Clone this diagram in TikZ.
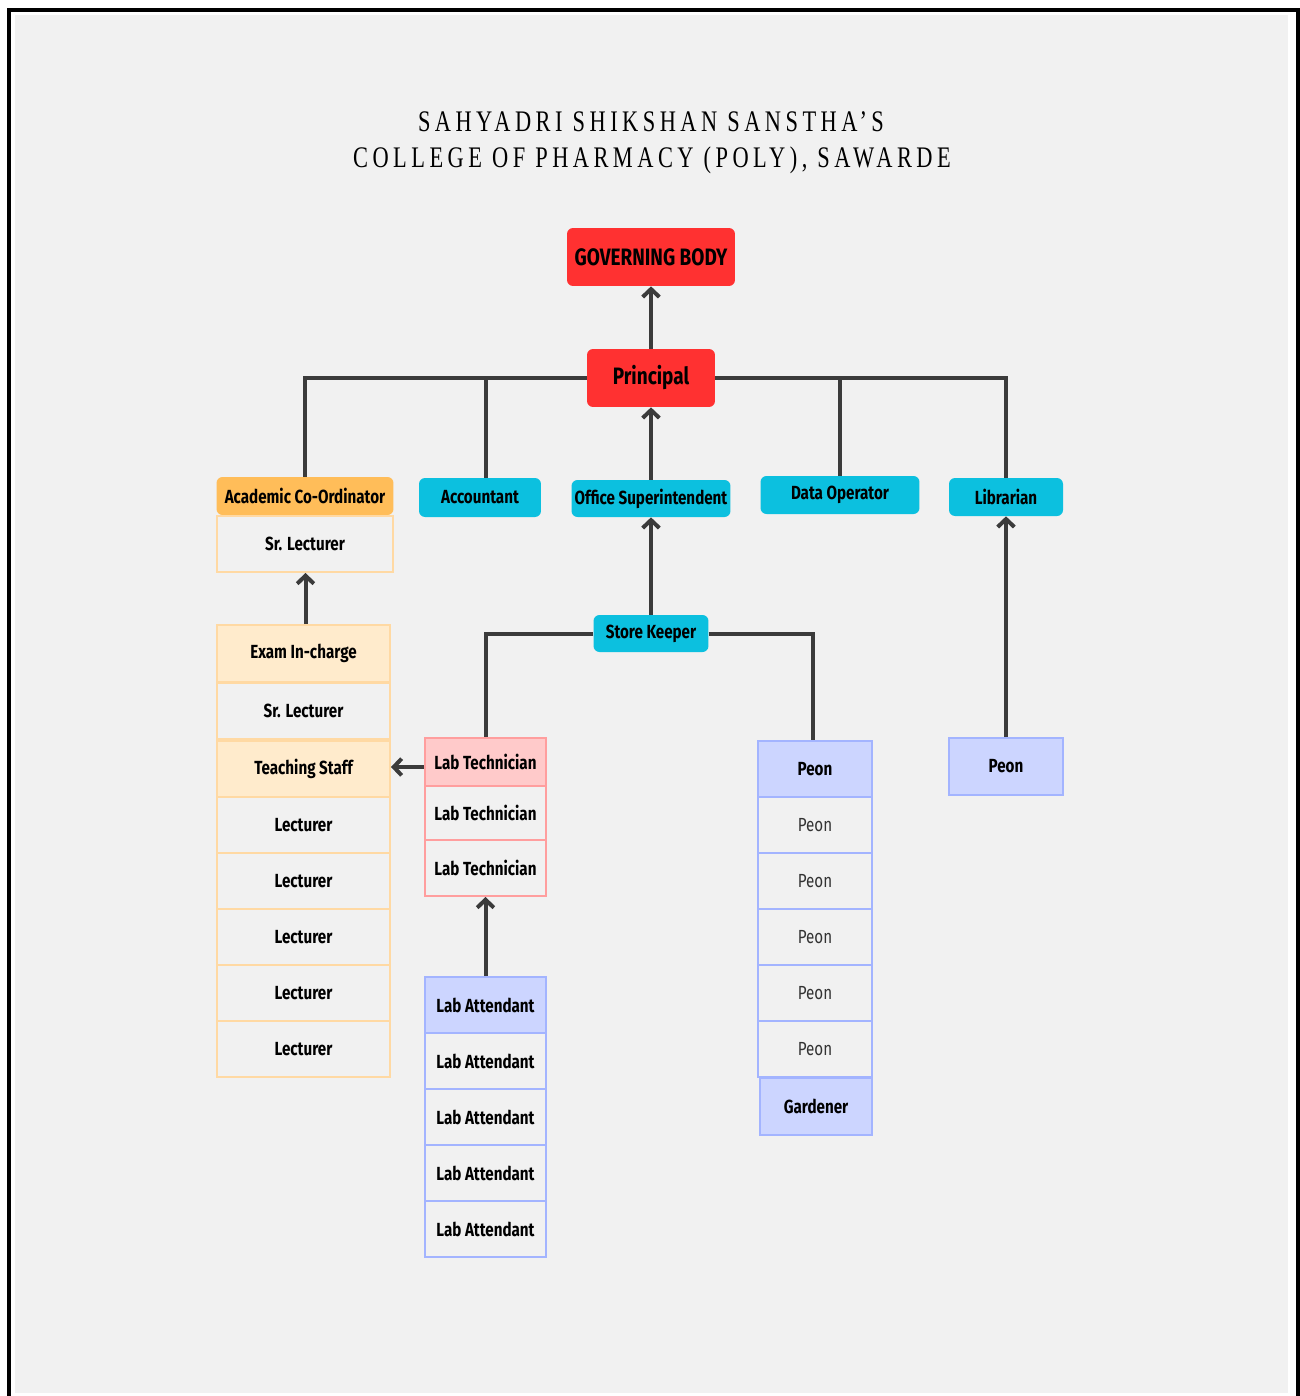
\documentclass[tikz,border=0pt]{standalone}
\usepackage{fontspec}
\setmainfont{Fira Sans}[FakeStretch=0.8]
\newfontfamily\titlefont{Liberation Serif}[FakeStretch=0.75,LetterSpace=15]
\usetikzlibrary{arrows.meta}

\definecolor{pagegray}{HTML}{F1F1F1}
\definecolor{linegray}{HTML}{3B3B3B}
\definecolor{govred}{HTML}{FF3131}
\definecolor{acadorange}{HTML}{FFBD59}
\definecolor{staffcyan}{HTML}{0CC0DF}
\definecolor{orangefill}{HTML}{FFEBCC}
\definecolor{orangeline}{HTML}{FFD9A3}
\definecolor{pinkfill}{HTML}{FFCACA}
\definecolor{pinkline}{HTML}{FF9E9E}
\definecolor{bluefill}{HTML}{CCD5FF}
\definecolor{blueline}{HTML}{A3B4FF}

\tikzset{
  conn/.style={draw=linegray, line width=0.08cm},
  arr/.style={conn, -{Straight Barb[length=4.5pt,width=9.5pt]}},
  head/.style={rounded corners=0.12cm, inner sep=0pt, minimum height=0.76cm,
    font=\fontsize{10.8}{12}\selectfont\bfseries},
  topbox/.style={head, fill=govred, minimum height=1.16cm,
    font=\fontsize{13.5}{15}\selectfont\bfseries},
  cyanbox/.style={head, fill=staffcyan},
  cell/.style={draw, line width=0.04cm, inner sep=0pt, minimum height=1.12cm,
    font=\fontsize{10.8}{12}\selectfont\bfseries},
  ocell/.style={cell, draw=orangeline, minimum width=3.46cm},
  pcell/.style={cell, draw=pinkline, minimum width=2.42cm},
  bcell/.style={cell, draw=blueline, minimum width=2.28cm},
  plain/.style={font=\fontsize{10.8}{12}\selectfont, text=black!80}
}

\begin{document}
\begin{tikzpicture}[x=0.02cm, y=-0.02cm]
  \useasboundingbox (0,0) rectangle (1300,1396);
  % page frame
  \fill[white] (0,0) rectangle (1300,1396);
  \draw[line width=0.08cm] (9,10) rectangle (1298,1410);
  \fill[pagegray] (15,15) rectangle (1288,1393);

  % title
  \node (title1) at (651,122) {\titlefont\fontsize{17}{19}\selectfont SAHYADRI SHIKSHAN SANSTHA’S};
  \node (title2) at (652,160) {\titlefont\fontsize{17}{19}\selectfont COLLEGE OF PHARMACY (POLY), SAWARDE};

  % top of the chart
  \node[topbox, minimum width=3.36cm] (gov) at (651,257) {GOVERNING BODY};
  \node[topbox, minimum width=2.56cm] (principal) at (651,378) {Principal};

  % second row
  \node[head, fill=acadorange, minimum width=3.54cm] (acad) at (305,496) {Academic Co-Ordinator};
  \node[cell, draw=orangeline, minimum width=3.52cm] (srlec) at (305,544) {Sr. Lecturer};
  \node[cyanbox, minimum width=2.44cm, minimum height=0.78cm] (accountant) at (480,497.5) {Accountant};
  \node[cyanbox, minimum width=3.18cm, minimum height=0.74cm] (officesup) at (651,498.5) {Office Superintendent};
  \node[cyanbox, minimum width=3.18cm] (dataop) at (840,495) {Data Operator};
  \node[cyanbox, minimum width=2.28cm] (librarian) at (1006,497) {Librarian};

  % academic side
  \node[ocell, fill=orangefill, minimum height=1.14cm] (exam) at (303.5,653.5) {Exam In-charge};
  \node[ocell] (srlecb) at (303.5,711) {Sr. Lecturer};
  \node[ocell, fill=orangefill] (teach) at (303.5,769) {Teaching Staff};
  \foreach \i/\y in {1/825,2/881,3/937,4/993,5/1049}
    \node[ocell] (lec\i) at (303.5,\y) {Lecturer};

  % office side
  \node[cyanbox, minimum width=2.3cm, minimum height=0.74cm] (storekeeper) at (651,633.5) {Store Keeper};
  \node[pcell, fill=pinkfill, minimum height=0.96cm] (labtech1) at (485.5,762) {Lab Technician};
  \node[pcell, minimum height=1.08cm] (labtech2) at (485.5,813) {Lab Technician};
  \node[pcell] (labtech3) at (485.5,868) {Lab Technician};
  \node[bcell, minimum width=2.42cm, fill=bluefill] (labatt1) at (485.5,1005) {Lab Attendant};
  \foreach \i/\y in {2/1061,3/1117,4/1173,5/1229}
    \node[bcell, minimum width=2.42cm] (labatt\i) at (485.5,\y) {Lab Attendant};
  \node[bcell, fill=bluefill] (peon1) at (815,769) {Peon};
  \foreach \i/\y in {2/825,3/881,4/937,5/993,6/1049}
    \node[bcell, plain] (peon\i) at (815,\y) {Peon};
  \node[bcell, fill=bluefill, minimum width=2.24cm, minimum height=1.14cm] (gardener) at (816,1106.5) {Gardener};
  \node[bcell, fill=bluefill, minimum height=1.14cm] (peonlib) at (1006,766.5) {Peon};

  % connectors
  \draw[arr] (principal.north) -- (gov.south);
  \draw[conn] (acad.north) |- (principal.west);
  \draw[conn] ([xshift=0.12cm]accountant.north) -- ([xshift=0.12cm]accountant.north |- principal.west);
  \draw[conn] (librarian.north) |- (principal.east);
  \draw[conn] (dataop.north) -- (dataop.north |- principal.east);
  \draw[arr] (officesup.north) -- (principal.south);
  \draw[arr] (storekeeper.north) -- (officesup.south);
  \draw[arr] ([xshift=0.04cm]exam.north) -- ([xshift=0.04cm]exam.north |- srlec.south);
  \draw[conn] (storekeeper.west) -| (labtech1.north);
  \draw[conn] (storekeeper.east) -| ([xshift=-0.04cm]peon1.north);
  \draw[arr] ([yshift=0.04cm]labtech1.west |- teach.east) -- ([yshift=0.04cm]teach.east);
  \draw[arr] (labatt1.north) -- (labtech3.south);
  \draw[arr] (peonlib.north) -- (librarian.south);
\end{tikzpicture}
\end{document}
